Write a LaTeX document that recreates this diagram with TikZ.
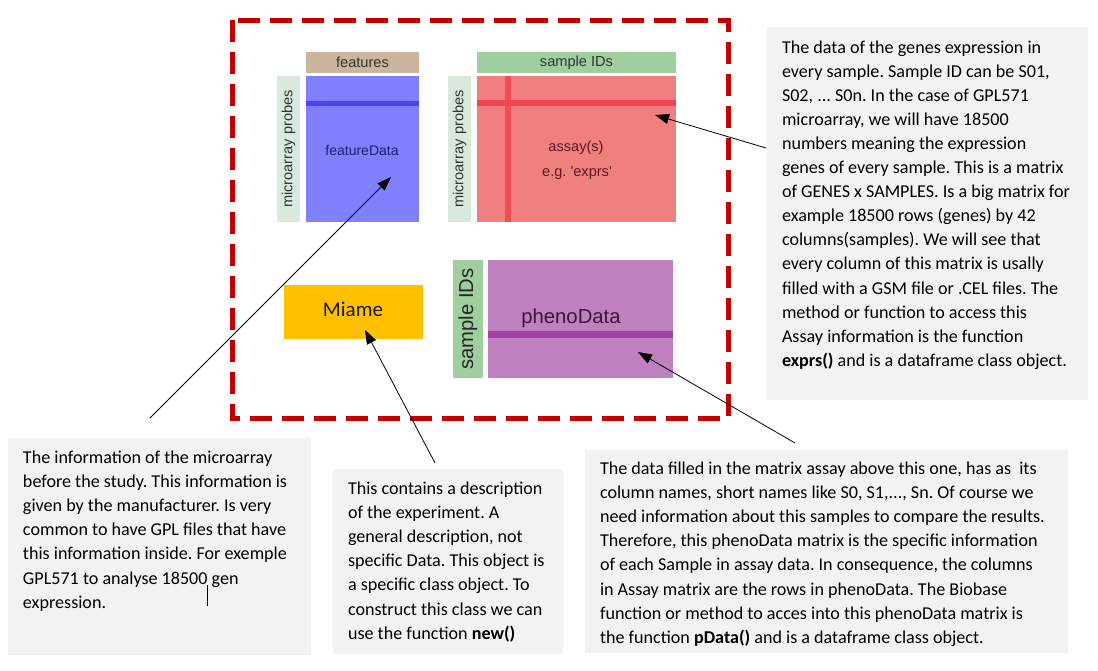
\documentclass[tikz,border=0pt]{standalone}
\usepackage{fontspec}
\setmainfont{Carlito}
\newfontfamily\arialfont{Liberation Sans}
\usetikzlibrary{arrows.meta}
\frenchspacing

\definecolor{framered}{HTML}{C00000}
\definecolor{notegray}{HTML}{F2F2F2}
\definecolor{tanhead}{HTML}{CBB59C}
\definecolor{greenhead}{HTML}{9FCF9F}
\definecolor{probestrip}{HTML}{DAE9DE}
\definecolor{featblue}{HTML}{8080FF}
\definecolor{featline}{HTML}{4646EC}
\definecolor{assayred}{HTML}{F08080}
\definecolor{assayline}{HTML}{F24452}
\definecolor{miamegold}{HTML}{FFC000}
\definecolor{phenopurple}{HTML}{BF80C0}
\definecolor{phenoline}{HTML}{A23FA2}

\tikzset{
  blk/.style={draw=none, inner sep=0pt, outer sep=0pt, anchor=north west},
  note/.style={blk, fill=notegray},
  notetext/.style={inner sep=0pt, outer sep=0pt, anchor=north west, align=left,
    font=\fontsize{18.1}{24.1}\selectfont},
  dlabel/.style={inner sep=0pt, font=\arialfont\fontsize{14.6}{17}\selectfont},
  arr/.style={draw=black, line width=0.8pt, -{Triangle[length=14pt,width=10pt]}}
}

\begin{document}
\begin{tikzpicture}[x=1pt,y=-1pt]
\useasboundingbox (0,0) rectangle (1098,670);
\fill[white] (0,0) rectangle (1098,670);

% dashed frame around the ExpressionSet sketch
\draw[framered, line width=5pt, dash pattern=on 22pt off 10pt] (232,20) rectangle (728,418);

% featureData block
\node[blk, fill=tanhead, minimum width=113pt, minimum height=21pt] (feathead) at (306,52) {};
\node[dlabel, text=black!80] (feathl) at (feathead.center) {features};
\node[blk, fill=featblue, minimum width=113pt, minimum height=146pt] (feat) at (306,76) {};
\fill[featline] (306,100.5) rectangle (419,105.5);
\node[dlabel, text={rgb,255:red,30;green,30;blue,110}, font=\arialfont\fontsize{14}{17}\selectfont] (featlbl) at (362,150) {featureData};
\node[blk, fill=probestrip, minimum width=23pt, minimum height=146pt] (probe1) at (277,76) {};
\node[dlabel, rotate=90, text=black!80] (probe1l) at (probe1.center) {microarray probes};

% assay block
\node[blk, fill=greenhead, minimum width=199pt, minimum height=21pt] (assayhead) at (477,52) {};
\node[dlabel, text=black!80] (assayhl) at (assayhead.center) {sample IDs};
\node[blk, fill=assayred, minimum width=199pt, minimum height=146pt] (assay) at (477,76) {};
\fill[assayline] (477,100) rectangle (676,106);
\fill[assayline, opacity=0.85] (505,76) rectangle (511,222);
\node[dlabel, text={rgb,255:red,90;green,25;blue,30}] (assaylbl) at (576,148) {assay(s)};
\node[dlabel, text={rgb,255:red,90;green,25;blue,30}] (assaylbl2) at (577,173) {e.g. 'exprs'};
\node[blk, fill=probestrip, minimum width=23pt, minimum height=146pt] (probe2) at (448,76) {};
\node[dlabel, rotate=90, text=black!80] (probe2l) at (probe2.center) {microarray probes};

% Miame block
\node[blk, fill=miamegold, minimum width=139pt, minimum height=54pt] (miame) at (284,285) {};
\node[inner sep=0pt, font=\fontsize{21}{24}\selectfont, text=black!90] (miamel) at (353,309) {Miame};

% phenoData block
\node[blk, fill=greenhead, minimum width=30pt, minimum height=118pt] (phenostrip) at (453,260) {};
\node[inner sep=0pt, rotate=90, font=\arialfont\fontsize{20.2}{22}\selectfont, text=black!85] (phenostripl) at (phenostrip.center) {sample IDs};
\node[blk, fill=phenopurple, minimum width=185pt, minimum height=118pt] (pheno) at (488,260) {};
\fill[phenoline] (488,331) rectangle (673,338);
\node[inner sep=0pt, font=\arialfont\fontsize{20.3}{22}\selectfont, text={rgb,255:red,60;green,20;blue,60}] (phenol) at (571,318) {phenoData};

% annotation boxes
\node[note, minimum width=321pt, minimum height=373pt] (noteassay) at (767,27) {};
\node[notetext] (noteassayt) at (782,40.5) {The data of the genes expression in\\
every sample. Sample ID can be S01,\\
S02, ... S0n. In the case of GPL571\\
microarray, we will have 18500\\
numbers meaning the expression\\
genes of every sample. This is a matrix\\
of GENES x SAMPLES. Is a big matrix for\\
example 18500 rows (genes) by 42\\
columns(samples). We will see that\\
every column of this matrix is usally\\
filled with a GSM file or .CEL files. The\\
method or function to access this\\
Assay information is the function\\
\textbf{exprs()} and is a dataframe class object.};

\node[note, minimum width=303pt, minimum height=217pt] (notefeat) at (8,438) {};
\node[notetext] (notefeatt) at (23,451) {The information of the microarray\\
before the study. This information is\\
given by the manufacturer. Is very\\
common to have GPL files that have\\
this information inside. For exemple\\
GPL571 to analyse 18500 gen\\
expression.};
\draw[black, line width=0.6pt] (207,585) -- (207,606);

\node[note, minimum width=230pt, minimum height=185pt] (notemiame) at (333,469) {};
\node[notetext] (notemiamet) at (348,482) {This contains a description\\
of the experiment. A\\
general description, not\\
specific Data. This object is\\
a specific class object. To\\
construct this class we can\\
use the function \textbf{new()}};

\node[note, minimum width=483pt, minimum height=203pt] (notepheno) at (585,450) {};
\node[notetext] (notephenot) at (600,462) {The data filled in the matrix assay above this one, has as\ \ its\\
column names, short names like S0, S1,..., Sn. Of course we\\
need information about this samples to compare the results.\\
Therefore, this phenoData matrix is the specific information\\
of each Sample in assay data. In consequence, the columns\\
in Assay matrix are the rows in phenoData. The Biobase\\
function or method to acces into this phenoData matrix is\\
the function \textbf{pData()} and is a dataframe class object.};

% connectors
\coordinate (featTail) at (150,418);
\coordinate (featTip) at (391,177);
\coordinate (assayTail) at (766,148);
\coordinate (assayTip) at (655,115);
\coordinate (miameTail) at (435,463);
\coordinate (miameTip) at (365,330);
\coordinate (phenoTail) at (795,443);
\coordinate (phenoTip) at (638,352);
\draw[arr] (featTail) -- (featTip);
\draw[arr] (assayTail) -- (assayTip);
\draw[arr] (miameTail) -- (miameTip);
\draw[arr] (phenoTail) -- (phenoTip);
\end{tikzpicture}
\end{document}
